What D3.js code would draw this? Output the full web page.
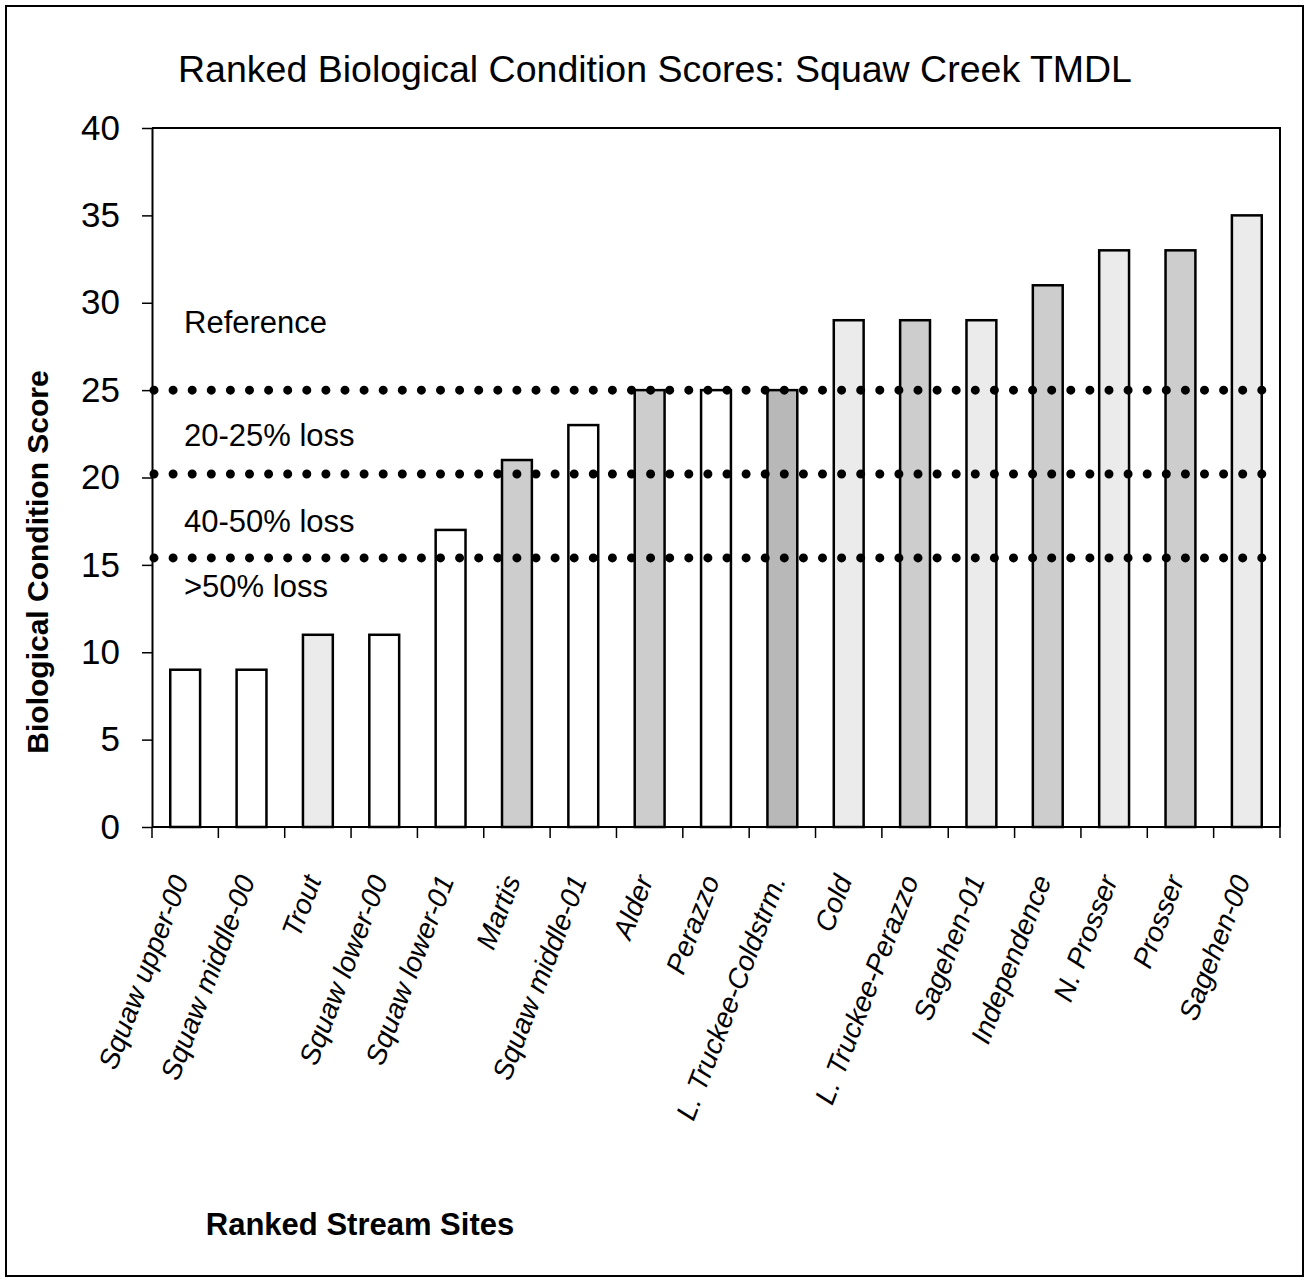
<!DOCTYPE html>
<html lang="en">
<head>
  <meta charset="utf-8">
  <title>Ranked Biological Condition Scores</title>
  <script src="https://d3js.org/d3.v7.min.js"></script>
  <style>
    body { margin: 0; background: #fff; }
    svg text { font-family: "Liberation Sans", Arial, sans-serif; fill: #000; }
  </style>
</head>
<body>
<svg width="1310" height="1281"></svg>
<script>
// ---- data ----
var sites = ["Squaw upper-00", "Squaw middle-00", "Trout", "Squaw lower-00", "Squaw lower-01",
  "Martis", "Squaw middle-01", "Alder", "Perazzo", "L. Truckee-Coldstrm.", "Cold",
  "L. Truckee-Perazzo", "Sagehen-01", "Independence", "N. Prosser", "Prosser", "Sagehen-00"];
var scores = [9, 9, 11, 11, 17, 21, 23, 25, 25, 25, 29, 29, 29, 31, 33, 33, 35];
// stipple tone of each bar in the scan: 0 = open, 1 = light, 2 = medium, 3 = dark
var tones = [0, 0, 1, 0, 0, 2, 0, 2, 0, 3, 1, 2, 1, 2, 1, 2, 1];
var yTicks = [0, 5, 10, 15, 20, 25, 30, 35, 40];
var thresholds = [25, 20.2, 15.4];
var zoneNames = ["Reference", "20-25% loss", "40-50% loss", ">50% loss"];
var zoneAt = [28.9, 22.4, 17.5, 13.8];

var svg = d3.select("svg"),
    pL = 152, pR = 1280, pT = 128, pB = 827;

var tone = d3.scaleOrdinal().domain([0, 1, 2, 3])
    .range(["#ffffff", "#ebebeb", "#cdcdcd", "#b8b8b8"]);

var x = d3.scaleBand().domain(sites).range([pL, pR]).padding(0);
var y = d3.scaleLinear().domain([0, 40]).range([pB, pT]);

// outer frame
svg.append("rect")
    .attr("x", 6).attr("y", 6).attr("width", 1297).attr("height", 1270)
    .attr("fill", "none").attr("stroke", "#000").attr("stroke-width", 2);

// title
svg.append("text")
    .attr("x", 655).attr("y", 82)
    .attr("text-anchor", "middle")
    .style("font-size", "37.5px")
    .text("Ranked Biological Condition Scores: Squaw Creek TMDL");

// plot border (top + right)
svg.append("path")
    .attr("d", "M" + pL + "," + pT + "H" + pR + "V" + pB)
    .attr("fill", "none").attr("stroke", "#000").attr("stroke-width", 2);

// bars
var bw = x.bandwidth() * 0.45;
svg.selectAll("rect.bar")
    .data(sites)
    .enter().append("rect")
      .attr("class", "bar")
      .attr("x", function(d) { return x(d) + (x.bandwidth() - bw) / 2; })
      .attr("y", function(d, i) { return y(scores[i]); })
      .attr("width", bw)
      .attr("height", function(d, i) { return y(0) - y(scores[i]); })
      .attr("fill", function(d, i) { return tone(tones[i]); })
      .attr("stroke", "#000").attr("stroke-width", 2.5);

// dotted threshold lines
svg.selectAll("line.thr")
    .data(thresholds)
    .enter().append("line")
      .attr("class", "thr")
      .attr("x1", pL + 2).attr("x2", pR - 4)
      .attr("y1", function(d) { return y(d); })
      .attr("y2", function(d) { return y(d); })
      .attr("stroke", "#000")
      .attr("stroke-width", 9)
      .attr("stroke-linecap", "round")
      .attr("stroke-dasharray", "0 19.1");

// zone labels
svg.selectAll("text.zone")
    .data(zoneNames)
    .enter().append("text")
      .attr("class", "zone")
      .attr("x", 184)
      .attr("y", function(d, i) { return y(zoneAt[i]); })
      .attr("dy", "0.35em")
      .style("font-size", "31px")
      .text(function(d) { return d; });

// y axis
var yAxis = svg.append("g")
    .attr("transform", "translate(" + pL + ",0)")
    .call(d3.axisLeft(y).tickValues(yTicks).tickSize(10).tickSizeOuter(0).tickPadding(22));
yAxis.select(".domain").attr("stroke-width", 2);
yAxis.selectAll(".tick line").attr("stroke-width", 1.5);
yAxis.selectAll(".tick text")
    .style("font-size", "35px")
    .style("font-family", "'Liberation Sans', Arial, sans-serif");

// x axis line + ticks at category boundaries
svg.append("line")
    .attr("x1", pL).attr("x2", pR)
    .attr("y1", pB).attr("y2", pB)
    .attr("stroke", "#000").attr("stroke-width", 2);
svg.selectAll("line.xtick")
    .data(sites.concat(["end"]))
    .enter().append("line")
      .attr("class", "xtick")
      .attr("x1", function(d) { return d === "end" ? pR : x(d); })
      .attr("x2", function(d) { return d === "end" ? pR : x(d); })
      .attr("y1", pB).attr("y2", pB + 11)
      .attr("stroke", "#000").attr("stroke-width", 1.5);

// rotated category labels
svg.selectAll("text.site")
    .data(sites)
    .enter().append("text")
      .attr("class", "site")
      .attr("transform", function(d) {
        return "translate(" + (x(d) + x.bandwidth() / 2 + 4) + ",880) rotate(-69)";
      })
      .attr("text-anchor", "end")
      .style("font-size", "28px")
      .style("font-style", "italic")
      .text(function(d) { return d; });

// axis titles
svg.append("text")
    .attr("transform", "translate(48,562) rotate(-90)")
    .attr("text-anchor", "middle")
    .style("font-size", "30px")
    .style("font-weight", "bold")
    .text("Biological Condition Score");

svg.append("text")
    .attr("x", 360).attr("y", 1235)
    .attr("text-anchor", "middle")
    .style("font-size", "31px")
    .style("font-weight", "bold")
    .text("Ranked Stream Sites");
</script>
</body>
</html>
